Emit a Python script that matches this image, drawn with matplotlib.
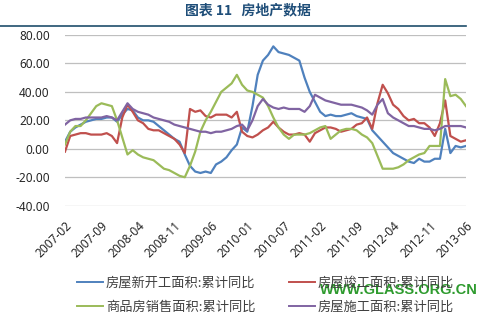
import matplotlib
matplotlib.use("Agg")
import matplotlib.pyplot as plt
from matplotlib.lines import Line2D

plt.rcParams['font.family'] = ['Noto Sans CJK SC', 'DejaVu Sans']

tick_labels = ["2007-02", "2007-09", "2008-04", "2008-11", "2009-06", "2010-01",
               "2010-07", "2011-02", "2011-09", "2012-04", "2012-11", "2013-06"]

new_start = [5, 12, 15, 17, 19, 20, 21, 21, 22, 22, 19, 24, 28, 27, 22, 20, 20, 19, 16, 13,
             10, 7, 5, -4, -12, -16, -17, -16, -17, -11, -9, -6, -1, 3, 15, 12, 30, 52, 62, 66,
             72, 68, 67, 66, 64, 62, 50, 40, 33, 26, 23, 24, 23, 23, 24, 25, 23, 22, 21, 13,
             9, 5, 1, -3, -5, -7, -9, -10, -7, -9, -9, -7, -7, 14, -3, 2, 1, 2]
completed = [-2, 9, 10, 11, 11, 10, 10, 10, 11, 9, 4, 22, 31, 26, 20, 18, 14, 13, 13, 11,
             9, 7, 3, -3, 28, 26, 27, 23, 22, 24, 24, 24, 22, 26, 12, 9, 8, 10, 13, 15,
             19, 15, 12, 10, 10, 11, 10, 5, 11, 13, 15, 15, 14, 12, 13, 14, 17, 18, 22, 14,
             32, 45, 39, 31, 28, 23, 20, 21, 18, 18, 15, 9, 18, 34, 9, 7, 5, 6]
sales = [3, 12, 16, 16, 20, 25, 30, 32, 31, 30, 20, 8, -4, -1, -4, -6, -7, -8, -11, -14,
         -15, -17, -19, -20, -12, -2, 12, 20, 26, 33, 40, 43, 46, 52, 45, 41, 40, 38, 36, 30,
         22, 15, 10, 7, 10, 10, 10, 11, 13, 15, 16, 7, 10, 13, 14, 14, 13, 10, 8, 4,
         -5, -14, -14, -14, -13, -11, -8, -6, -4, -3, 2, 2, 2, 49, 37, 38, 35, 30]
under_constr = [17, 20, 21, 21, 22, 22, 22, 22, 23, 22, 20, 26, 32, 28, 26, 25, 24, 22, 21, 20,
                19, 17, 16, 15, 14, 13, 12, 12, 11, 12, 12, 13, 14, 16, 17, 13, 20, 30, 35, 31,
                29, 28, 29, 28, 28, 28, 26, 30, 38, 36, 34, 33, 32, 31, 31, 31, 30, 29, 27, 24,
                31, 35, 25, 22, 20, 18, 16, 16, 15, 14, 14, 13, 14, 16, 16, 16, 16, 15]

names = ["房屋新开工面积:累计同比", "房屋竣工面积:累计同比",
         "商品房销售面积:累计同比", "房屋施工面积:累计同比"]
colors = ["#4F81BD", "#C0504D", "#9BBB59", "#8064A2"]

fig = plt.figure(figsize=(4.92, 3.12), dpi=100)
ax = fig.add_axes([65/492, 1-205.7/312, (466-65)/492, (205.7-35)/312])

series = [new_start, completed, sales, under_constr]
handles = []
for s, c, n in zip(series, colors, names):
    x = list(range(len(s)))
    h, = ax.plot(x, s, color=c, lw=1.6, label=n, solid_joinstyle='round')
    handles.append(h)

ax.set_xlim(0, len(new_start) - 1)
ax.set_ylim(-40, 80)
ax.set_yticks(range(-40, 81, 20))
ax.set_yticklabels([f"{v:.2f}" for v in range(-40, 81, 20)], fontsize=8.5,
                   family=['Noto Sans', 'DejaVu Sans'], color='#262626')
ax.set_xticks([i * 7 for i in range(len(tick_labels))])
ax.set_xticklabels(tick_labels, rotation=45, ha='right', va='top', fontsize=8.5,
                   family=['Noto Sans', 'DejaVu Sans'], color='#262626',
                   rotation_mode='anchor')
ax.tick_params(axis='y', length=0, pad=11)
ax.tick_params(axis='x', length=0, pad=10)
ax.grid(axis='y', color='#BFBFBF', lw=0.9)
ax.set_axisbelow(True)
for sp in ax.spines.values():
    sp.set_visible(False)

fig.text(248/492, 1-10/312, "图表 11   房地产数据", ha='center', va='center',
         fontsize=10, fontweight='bold', color='#1F4E79')
fig.add_artist(Line2D([0, 466/492], [1-25.5/312, 1-25.5/312], color='#1F4E6B', lw=1.2,
                      transform=fig.transFigure))

order = [0, 2, 1, 3]
leg = fig.legend([handles[i] for i in order], [names[i] for i in order], ncol=2,
                 loc='center left', bbox_to_anchor=(77/492, 1-295/312), frameon=False,
                 fontsize=9.5, handlelength=2.0, handletextpad=0.2, columnspacing=2.5,
                 labelspacing=0.8, borderpad=0, borderaxespad=0)
for t in leg.get_texts():
    t.set_color('#404040')
for lh in leg.get_lines():
    lh.set_linewidth(1.4)

fig.text(399/492, 1-290/312, "WWW.GLASS.ORG.CN", ha='center', va='center',
         fontsize=10.5, fontweight='bold', color='#2E9B2E', family='Liberation Sans')

fig.savefig("out.png", dpi=100)
